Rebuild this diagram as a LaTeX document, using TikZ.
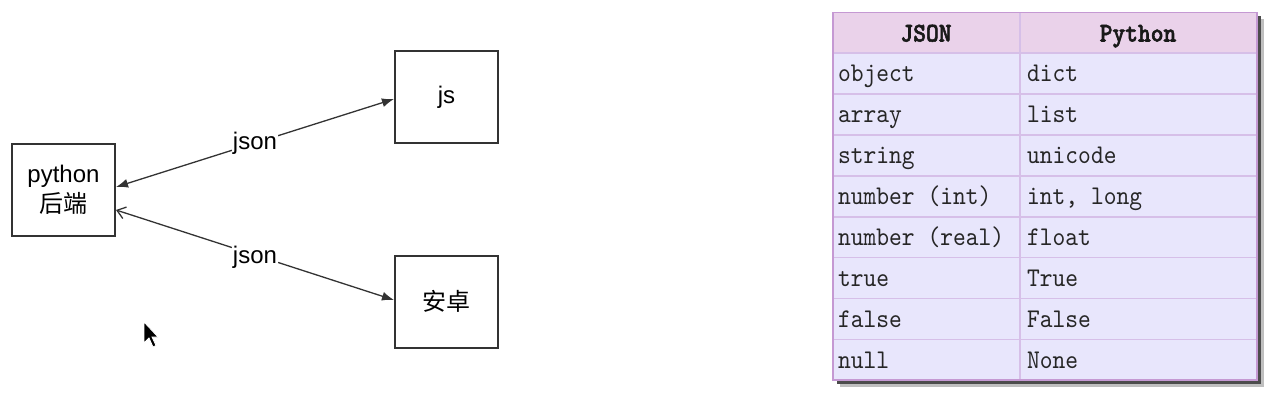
\documentclass[tikz,border=0pt]{standalone}
\usepackage{fontspec}
\setmainfont{Liberation Sans}
\newfontfamily\cjk{Noto Sans CJK SC}
\newfontfamily\tbl{lmmono10-regular.otf}[BoldFont=lmmonolt10-bold.otf,
   BoldFeatures={FakeBold=2}, FakeStretch=0.9]
\usetikzlibrary{arrows.meta}
\definecolor{headpink}{HTML}{EAD2EA}
\definecolor{rowlav}{HTML}{E8E6FC}
\definecolor{gridvio}{HTML}{D6BFE8}
\tikzset{box/.style={draw=black!80, line width=2pt, minimum width=103pt,
   minimum height=92pt, inner sep=0pt, align=center,
   font=\fontsize{24}{30}\selectfont},
 link/.style={draw=black!80, line width=1.3pt},
 lbl/.style={fill=white, inner sep=1pt, font=\fontsize{24}{24}\selectfont},
 cell/.style={anchor=base west, inner sep=0pt, text=black!85,
   font=\tbl\fontsize{27}{27}\selectfont},
 head/.style={anchor=base, inner sep=0pt, text=black!90,
   font=\tbl\bfseries\fontsize{27}{27}\selectfont},
 grid/.style={draw=gridvio, line width=1.5pt},
 }

\begin{document}
\begin{tikzpicture}[x=1pt, y=-1pt]
        \useasboundingbox (0,0) rectangle (1282,406);
        % boxes
        \node[box] (py) at (63.5,190) {python\\{\cjk 后端}};
        \node[box] (js) at (446.5,97) {js};
        \node[box] (az) at (446.5,301.5) {\cjk 安卓};
        % connectors
        \draw[link, {Latex[length=12pt,width=9pt]}-{Latex[length=12pt,width=9pt]}]
            ([yshift=3pt]py.east) -- node[lbl] (l1) {json} ([yshift=-2pt]js.west);
        \draw[link, {Straight Barb[length=8pt,width=12pt]}-{Latex[length=12pt,width=9pt]}]
            ([yshift=-20pt]py.east) -- node[lbl, yshift=-2pt] (l2) {json} ([yshift=1.5pt]az.west);
        % mouse pointer
        \filldraw[fill=black, draw=white, line width=0.8pt]
            (144,322) -- (144,343) -- (149,338) -- (153,347) -- (156,345.5)
            -- (152,337) -- (158,337) -- cycle;
        % table
        \fill[black!25] (840,19) rectangle (1264,387);
        \fill[black!70] (837,16) rectangle (1261,384);
        \fill[rowlav] (833,12.3) rectangle (1257,380);
        \fill[headpink] (833,12.3) rectangle (1257,53.2);
        \foreach \i in {1,...,8}
            \draw[grid] (833,{12.3+40.9*\i}) -- (1257,{12.3+40.9*\i});
        \draw[grid] (1020,12.3) -- (1020,380);
        \draw[draw=gridvio!80!violet, line width=1.5pt] (833,12.3) rectangle (1257,380);
        \node[head] (hj) at (926,41.5) {JSON};
        \node[head] (hp) at (1138,41.5) {Python};
        \node[cell] (j1) at (838,82) {object};
        \node[cell] (p1) at (1027,82) {dict};
        \node[cell] (j2) at (838,122.9) {array};
        \node[cell] (p2) at (1027,122.9) {list};
        \node[cell] (j3) at (838,163.8) {string};
        \node[cell] (p3) at (1027,163.8) {unicode};
        \node[cell] (j4) at (838,204.7) {number (int)};
        \node[cell] (p4) at (1027,204.7) {int, long};
        \node[cell] (j5) at (838,245.6) {number (real)};
        \node[cell] (p5) at (1027,245.6) {float};
        \node[cell] (j6) at (838,286.5) {true};
        \node[cell] (p6) at (1027,286.5) {True};
        \node[cell] (j7) at (838,327.4) {false};
        \node[cell] (p7) at (1027,327.4) {False};
        \node[cell] (j8) at (838,368.3) {null};
        \node[cell] (p8) at (1027,368.3) {None};
    \end{tikzpicture}
\end{document}
